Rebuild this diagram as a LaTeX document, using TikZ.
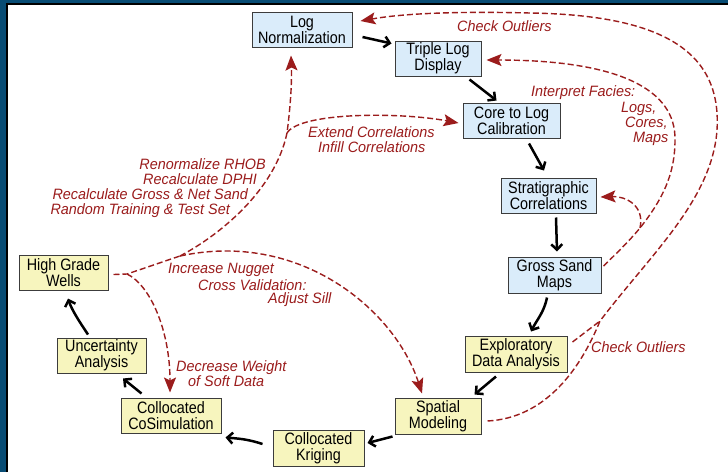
\documentclass[tikz,border=0pt]{standalone}
\usepackage{fontspec}
\setmainfont{Liberation Sans}
\newfontfamily\boxfont{Liberation Sans}[FakeStretch=0.87]
\newfontfamily\lblfont{Liberation Sans}[FakeStretch=0.96]
\usetikzlibrary{arrows.meta}
\definecolor{bluefill}{RGB}{218,236,250}
\definecolor{yelfill}{RGB}{247,245,190}
\definecolor{edgegray}{RGB}{60,60,60}
\definecolor{dred}{RGB}{155,28,28}
\definecolor{frameblue}{RGB}{8,76,116}
\begin{document}
\begin{tikzpicture}[x=1pt,y=-1pt,
 box/.style={draw=edgegray, line width=1pt, align=center, inner sep=0pt, font=\boxfont\fontsize{16.5}{16}\selectfont},
 bbox/.style={box, fill=bluefill},
 ybox/.style={box, fill=yelfill},
 blk/.style={line width=2.5pt, -{Straight Barb[length=5.5pt,width=11pt]}},
 rd/.style={draw=dred, line width=1.4pt, dash pattern=on 6pt off 3pt},
 rda/.style={rd, -{Stealth[length=15pt,width=12pt,inset=3pt]}},
 lbl/.style={text=dred, font=\lblfont\fontsize{15}{16}\selectfont\itshape, inner sep=0pt, anchor=base west},
]
\useasboundingbox (0,0) rectangle (728,472);
\fill[white] (0,0) rectangle (728,472);
\fill[frameblue] (0,0) rectangle (6,472);
\fill[frameblue] (0,0) rectangle (728,3);
\draw[black, line width=1.5pt] (7,472) -- (7,4) -- (728,4);

% nodes
\node[bbox, minimum width=100pt, minimum height=35pt] (ln) at (302,29.5) {Log\\Normalization};
\node[bbox, minimum width=86pt, minimum height=35pt] (tld) at (438,58.5) {Triple Log\\Display};
\node[bbox, minimum width=97pt, minimum height=35pt] (clc) at (511.5,120.5) {Core to Log\\Calibration};
\node[bbox, minimum width=95pt, minimum height=35pt] (sc) at (548.5,195.5) {Stratigraphic\\Correlations};
\node[bbox, minimum width=93pt, minimum height=36pt] (gsm) at (554.5,275) {Gross Sand\\Maps};
\node[ybox, minimum width=102pt, minimum height=36pt] (eda) at (516,354) {Exploratory\\Data Analysis};
\node[ybox, minimum width=86pt, minimum height=36pt] (sm) at (438,416) {Spatial\\Modeling};
\node[ybox, minimum width=91pt, minimum height=36pt] (ck) at (318.5,448) {Collocated\\Kriging};
\node[ybox, minimum width=100pt, minimum height=35pt] (ccs) at (171,415.5) {Collocated\\CoSimulation};
\node[ybox, minimum width=89pt, minimum height=35pt] (ua) at (101.5,355.5) {Uncertainty\\Analysis};
\node[ybox, minimum width=89pt, minimum height=35pt] (hgw) at (63.5,272.5) {High Grade\\Wells};

% black flow
\draw[blk] ([shift={(10,7.5)}]ln.east) -- ([shift={(-3,3)}]tld.north west);
\draw[blk] ([shift={(-12,3)}]tld.south east) -- ([shift={(-15,-2)}]clc.north);
\draw[blk] ([shift={(17.5,5)}]clc.south) -- ([shift={(-4.5,-7)}]sc.north);
\draw[blk] ([shift={(7.5,4)}]sc.south) -- ([shift={(2.5,-5)}]gsm.north);
\draw[blk] ([shift={(-7.5,4)}]gsm.south) .. controls +(-3,15) and +(6,-12) .. ([shift={(15,-4)}]eda.north);
\draw[blk] ([shift={(-20,4)}]eda.south) -- ([shift={(-7,-3)}]sm.north east);
\draw[blk] ([shift={(-2,2)}]sm.south west) -- ([shift={(3,-5)}]ck.east);
\draw[blk] ([shift={(-10,-4)}]ck.west) .. controls +(-15,-5) and +(12,1) .. ([shift={(4,4)}]ccs.south east);
\draw[blk] ([shift={(21,-4)}]ccs.north west) -- ([shift={(21.5,5)}]ua.south);
\draw[blk] ([shift={(-13.5,-3)}]ua.north) .. controls +(-8,-12) and +(4,12) .. ([shift={(4.5,8)}]hgw.south);

% red feedback: check outliers (outer)
\draw[rda] ([shift={(6,5)}]sm.east) .. controls (545,418) and (580,370) .. (600,321) coordinate (m1)
  .. controls (650,255) and (712,200) .. (717,130)
  .. controls (722,50) and (660,15) .. (530,13)
  .. controls (450,11) and (400,14) .. ([shift={(8,-8.5)}]ln.east);
\draw[rd] ([shift={(5,-12)}]eda.east) -- (m1);

% interpret facies
\draw[rda] ([shift={(2,-9)}]gsm.east) .. controls (620,250) and (630,240) .. (640,228) coordinate (m2)
  .. controls (662,200) and (675,175) .. (675,140)
  .. controls (676,90) and (620,60) .. ([shift={(5,1.5)}]tld.east);
\draw[rda] (m2) .. controls (645,205) and (625,196) .. ([shift={(4,1.5)}]sc.east);

% from high grade wells
\draw[rd] ([shift={(5,2)}]hgw.east) -- (127,274) coordinate (m3)
  .. controls (145,268) and (165,261) .. (180,256) coordinate (m5);
\draw[rda] (m5) .. controls (220,235) and (275,190) .. (287,133) coordinate (m4)
  .. controls (290,110) and (292,85) .. ([shift={(-11,8)}]ln.south);
\draw[rda] (m4) .. controls (300,112) and (400,112) .. ([shift={(-4,2.5)}]clc.west);
\draw[rda] (m5) .. controls (300,230) and (395,310) .. ([shift={(-16,-4)}]sm.north);
\draw[rda] (m3) .. controls (150,285) and (170,330) .. ([shift={(-1,-5)}]ccs.north);

% labels
\node[lbl] (l1) at (457,31.5) {Check Outliers};
\node[lbl] (l2) at (531,96.5) {Interpret Facies:};
\node[lbl] (l3) at (621,112) {Logs,};
\node[lbl] (l4) at (625,127.5) {Cores,};
\node[lbl] (l5) at (633,142.5) {Maps};
\node[lbl] (l6) at (308,137.5) {Extend Correlations};
\node[lbl] (l7) at (318,152.5) {Infill Correlations};
\node[lbl, anchor=base east] (l8) at (266,169.5) {Renormalize RHOB};
\node[lbl, anchor=base east] (l9) at (257,184.5) {Recalculate DPHI};
\node[lbl, anchor=base east] (l10) at (248,199.5) {Recalculate Gross \& Net Sand};
\node[lbl, anchor=base east] (l11) at (230,214.5) {Random Training \& Test Set};
\node[lbl] (l12) at (168,273) {Increase Nugget};
\node[lbl] (l13) at (198,290.5) {Cross Validation:};
\node[lbl] (l14) at (268,303.5) {Adjust Sill};
\node[lbl] (l15) at (176,371) {Decrease Weight};
\node[lbl] (l16) at (188,386.5) {of Soft Data};
\node[lbl] (l17) at (591,352.5) {Check Outliers};
\end{tikzpicture}
\end{document}
